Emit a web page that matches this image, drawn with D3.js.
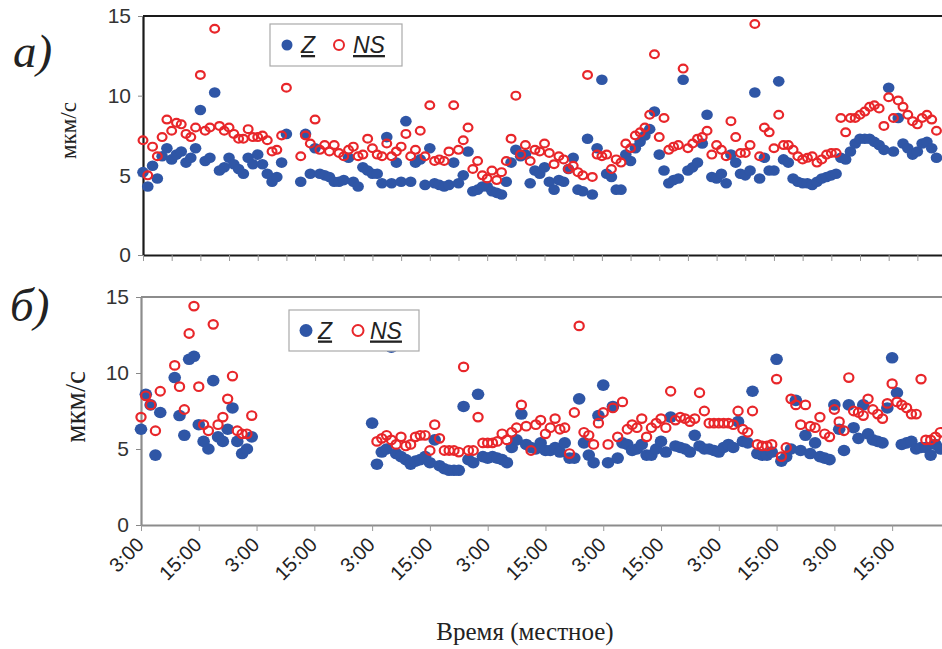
<!DOCTYPE html>
<html><head><meta charset="utf-8">
<script src="https://cdn.jsdelivr.net/npm/d3@7"></script>
<style>body{margin:0;background:#fff} svg{display:block}</style>
</head><body>
<script>
// ---- DATA (hourly values, hour 0 = 3:00 local on the first day) ----
const hourSpan = 168;
const yTickValues = [0, 5, 10, 15];
const tickLabels = ["3:00","15:00","3:00","15:00","3:00","15:00","3:00","15:00","3:00","15:00","3:00","15:00","3:00","15:00"];
const seriesNames = ["Z", "NS"];
const panelLabels = ["а)", "б)"];
const yTitle = "мкм/с";
const xTitle = "Время (местное)";

// panel a) — Z
const topZ = [5.2,4.3,5.6,4.8,6.2,6.7,6.0,6.3,6.5,5.8, 6.1,6.7,9.1,5.9,6.1,10.2,5.3,5.5,6.1,5.7,
  5.4,5.1,6.1,5.7,6.3,5.7,5.1,4.6,4.9,5.8, 7.6,null,null,4.6,7.6,5.1,6.7,5.1,5.0,4.9,
  4.6,4.6,4.7,6.1,4.6,4.3,5.5,5.3,5.1,5.1, 4.5,7.4,4.5,5.8,4.6,8.4,
  4.6,5.8,6.0,4.4,6.7,4.5,4.4,4.3,4.4,5.8, 4.5,5.0,6.5,4.0,4.1,4.3,4.3,4.0,3.9,3.8,
  4.6,5.8,6.6,6.2,6.3,4.5,5.3,5.1,5.5,4.6, 4.1,4.7,4.6,5.4,6.1,4.1,4.0,7.3,3.8,6.7,
  11.0,5.1,4.9,4.1,4.1,6.3,5.9,6.7,7.1,7.5, 7.9,9.0,6.3,5.3,4.5,
  4.7,4.8,11.0,5.3,5.5,5.8,7.0,8.8,4.9,4.8, 5.1,4.5,6.3,5.8,5.1,5.0,5.3,10.2,4.8,6.1,
  5.3,5.3,10.9,6.0,5.8,4.8,4.6,4.5,4.5,4.4, 4.6,4.8,4.9,5.0,5.1,6.1,6.0,6.5,7.0,7.3,
  7.3,7.3,7.1,6.9,6.6,10.5,6.5,8.6,7.0,6.7, 6.3,6.5,7.0,7.1,6.7,6.1];
// panel a) — NS
const topNS = [7.2,5.0,6.8,6.2,7.4,8.5,7.8,8.3,8.2,7.6, 7.4,8.0,11.3,7.8,8.0,14.2,8.1,7.8,8.0,7.6,
  7.3,7.3,7.9,7.4,7.4,7.5,7.2,6.5,6.6,7.5, 10.5,null,null,6.2,7.5,7.0,8.5,6.6,6.9,6.5,
  6.9,6.4,6.2,6.6,6.8,6.2,6.3,7.3,6.7,6.3, 6.2,7.0,6.2,6.5,6.8,7.6,
  6.2,6.6,7.8,6.2,9.4,5.9,6.0,5.9,6.5,9.4, 6.6,7.2,8.0,5.4,5.9,5.0,4.8,5.3,4.7,5.2,
  5.9,7.3,10.0,6.3,6.9,5.9,6.6,6.5,7.0,6.4, 5.7,6.2,6.0,5.4,5.6,5.2,5.0,11.3,4.9,6.3,
  6.2,6.3,5.4,6.0,5.8,7.0,6.7,7.5,7.7,8.0, 8.8,12.6,7.4,8.6,6.6,
  6.8,6.9,11.7,6.7,7.0,7.3,7.4,7.8,6.3,6.9, 6.6,6.2,8.4,7.4,6.4,6.4,6.9,14.5,6.2,8.0,
  7.7,6.7,8.8,6.9,6.9,6.6,6.2,6.0,6.1,6.2, 5.8,6.0,6.3,6.4,6.4,8.6,7.7,8.6,8.6,8.8,
  9.0,9.3,9.4,9.2,8.1,9.9,8.6,9.7,9.3,8.8, 8.4,8.2,8.6,8.8,8.5,7.8];
// panel б) — Z
const botZ = [6.3,8.6,7.9,4.6,7.4,null,null,9.7,7.2,5.9, 10.9,11.1,6.6,5.5,5.0,9.5,5.8,5.5,6.3,7.7,
  5.5,4.7,5.0,5.8,
  null,null,null,null,null,null,null,null,null,null,null,null,
  null,null,null,null,null,null,null,null,null,null,null,null,
  6.7,4.0,4.8,5.0,11.7,4.7,4.5,4.3,4.0,4.2, 4.3,4.5,4.1,5.6,3.9,3.7,3.6,3.6,3.6,7.8,
  4.3,4.1,8.6,4.5,4.4,4.5,4.4,4.3,4.1,5.1, 5.6,7.3,5.3,5.1,
  5.0,5.4,4.9,4.9,5.1,4.8,5.4,4.4,4.4,8.3, 5.4,4.6,4.1,7.2,9.2,4.1,7.8,4.4,5.4,5.3,
  4.9,5.0,5.3,4.6,4.6,5.0,5.5,4.8,7.1,5.2, 5.1,5.0,4.8,5.9,5.2,5.0,5.0,4.9,4.8,5.1,
  5.3,5.1,6.8,5.5,5.4,8.8,4.7,4.6,4.6,4.8, 10.9,4.2,4.5,5.0,8.2,4.9,5.9,4.7,5.4,4.5,
  4.4,4.3,7.9,6.3,4.9,7.9,6.4,5.7,7.9,6.0, 5.6,5.5,5.4,7.7,11.0,8.7,5.3,5.4,5.5,5.0,
  5.1,5.1,4.6,5.3,5.0];
// panel б) — NS
const botNS = [7.1,8.5,7.9,6.2,8.8,null,null,10.5,9.1,7.6, 12.6,14.4,9.1,6.6,6.2,13.2,6.6,7.1,8.3,9.8,
  6.2,6.0,6.0,7.2,
  null,null,null,null,null,null,null,null,null,null,null,null,
  null,null,null,null,null,null,null,null,null,null,null,null,null,
  5.5,5.7,5.9,5.6,5.3,5.8,5.2,5.3,5.8,5.9, 5.9,4.9,6.6,5.7,4.9,4.9,4.9,4.8,10.4,4.9,
  4.9,7.1,5.4,5.4,5.4,5.5,6.0,5.6,6.1,6.4, 7.9,6.5,4.9,6.6,
  6.9,6.0,6.4,7.0,6.3,6.4,4.7,7.4,13.1,6.1, 5.9,5.3,6.7,7.4,5.3,7.7,5.8,8.1,6.3,6.6,
  6.4,7.0,5.8,6.4,6.7,7.0,6.4,8.8,6.9,7.1, 7.0,6.8,7.0,8.7,7.5,6.7,6.7,6.7,6.7,6.7,
  6.6,7.5,6.3,6.1,7.5,5.3,5.2,5.2,5.3,9.6, 4.5,5.1,8.3,7.9,6.6,7.9,6.5,6.4,7.1,6.0,
  5.8,7.6,6.8,6.2,9.7,7.5,7.4,7.2,8.3,7.6, 7.3,7.0,8.0,9.3,8.1,7.9,7.7,7.3,7.3,9.6,
  5.6,5.6,5.8,6.1];

// ---- DRAWING ----
const W = 942, H = 649;
const sans = "'Liberation Sans', Arial, sans-serif";
const serif = "'Liberation Serif', 'Times New Roman', serif";
const blue = "#2f56a6", red = "#e8262a";

const svg = d3.select("body").append("svg").attr("width", W).attr("height", H)
  .style("background", "#fff");

function drawPanel(cfg) {
  const g = svg.append("g");
  const x = d3.scaleLinear().domain([0, hourSpan]).range([cfg.x0, cfg.x0 + hourSpan * cfg.pph]);
  const y = d3.scaleLinear().domain([0, 15]).range([cfg.yb, cfg.yt]);

  // top border
  g.append("line").attr("x1", cfg.x0).attr("x2", W).attr("y1", cfg.yt).attr("y2", cfg.yt)
    .attr("stroke", cfg.frame).attr("stroke-width", cfg.frameW);

  // y axis
  const ya = g.append("g").attr("transform", `translate(${cfg.x0},0)`)
    .call(d3.axisLeft(y).tickValues(yTickValues).tickSize(5).tickSizeOuter(0).tickPadding(7));
  ya.select(".domain").attr("stroke", cfg.frame).attr("stroke-width", cfg.frameW);
  ya.selectAll(".tick line").attr("stroke", "#888").attr("stroke-width", 1);
  ya.selectAll(".tick text").attr("font-family", sans).attr("font-size", 21).attr("fill", "#333");

  // x axis
  const xa = g.append("g").attr("transform", `translate(0,${cfg.yb})`)
    .call(d3.axisBottom(x).tickValues(d3.range(0, hourSpan, cfg.tickStep)).tickSize(6).tickSizeOuter(0).tickFormat(""));
  xa.select(".domain").attr("stroke", cfg.frame).attr("stroke-width", cfg.frameW);
  xa.selectAll(".tick line").attr("stroke", "#999").attr("stroke-width", 1);

  // points
  const zPts = cfg.z.map((v, i) => ({h: i, v})).filter(d => d.v != null);
  const nsPts = cfg.ns.map((v, i) => ({h: i, v})).filter(d => d.v != null);
  g.append("g").selectAll("ellipse").data(zPts).join("ellipse")
    .attr("cx", d => x(d.h)).attr("cy", d => y(d.v))
    .attr("rx", cfg.zr[0]).attr("ry", cfg.zr[1]).attr("fill", blue);
  g.append("g").selectAll("ellipse").data(nsPts).join("ellipse")
    .attr("cx", d => x(d.h)).attr("cy", d => y(d.v))
    .attr("rx", cfg.nsr[0]).attr("ry", cfg.nsr[1]).attr("fill", "none")
    .attr("stroke", red).attr("stroke-width", 2.2);

  // legend
  const L = cfg.legend;
  const lg = g.append("g").attr("transform", `translate(${L.x},${L.y})`);
  lg.append("rect").attr("width", L.w).attr("height", L.h).attr("fill", "#fff")
    .attr("stroke", "#aaa").attr("stroke-width", 1.2);
  lg.append("circle").attr("cx", L.dot).attr("cy", L.h / 2).attr("r", L.dotR).attr("fill", blue);
  lg.append("text").attr("x", L.zx).attr("y", L.h / 2 + 8).text(seriesNames[0])
    .attr("font-family", sans).attr("font-style", "italic").attr("font-size", 23)
    .attr("fill", "#222").style("text-decoration", "underline");
  lg.append("circle").attr("cx", L.ring).attr("cy", L.h / 2).attr("r", L.ringR)
    .attr("fill", "none").attr("stroke", red).attr("stroke-width", 2);
  lg.append("text").attr("x", L.nsx).attr("y", L.h / 2 + 8).text(seriesNames[1])
    .attr("font-family", sans).attr("font-style", "italic").attr("font-size", 23)
    .attr("fill", "#222").style("text-decoration", "underline");

  // panel label and y title
  svg.append("text").attr("x", cfg.lab[0]).attr("y", cfg.lab[1]).text(cfg.label)
    .attr("font-family", serif).attr("font-style", "italic").attr("font-size", 47).attr("fill", "#222");
  svg.append("text").attr("transform", `translate(${cfg.yTitle[0]},${(cfg.yt + cfg.yb) / 2 + cfg.yTitle[2]}) rotate(-90)`)
    .attr("text-anchor", "middle").text(yTitle)
    .attr("font-family", serif).attr("font-size", cfg.yTitle[1]).attr("fill", "#222");
  return x;
}

drawPanel({
  x0: 143, pph: 4.78, yt: 16, yb: 255, frame: "#1a1a1a", frameW: 2.2, tickStep: 6,
  z: topZ, ns: topNS, zr: [5.8, 5.3], nsr: [4.4, 3.9],
  legend: {x: 270, y: 24, w: 132, h: 42, dot: 17, dotR: 5.5, zx: 31, ring: 69, ringR: 5, nsx: 83},
  label: panelLabels[0], lab: [13, 67], yTitle: [76, 23, -5]
});
const xb = drawPanel({
  x0: 141, pph: 4.815, yt: 297, yb: 525, frame: "#8c8c8c", frameW: 2.2, tickStep: 12,
  z: botZ, ns: botNS, zr: [6.3, 5.8], nsr: [4.6, 4.3],
  legend: {x: 289, y: 310, w: 130, h: 41, dot: 17, dotR: 6.5, zx: 29, ring: 69, ringR: 5.5, nsx: 81},
  label: panelLabels[1], lab: [10, 321], yTitle: [85, 29, -4]
});

// x tick labels
svg.append("g").selectAll("text").data(tickLabels).join("text")
  .attr("transform", (d, i) => `translate(${xb(i * 12) + 4},546) rotate(-45)`)
  .attr("text-anchor", "end").text(d => d)
  .attr("font-family", sans).attr("font-size", 20).attr("fill", "#222");

svg.append("text").attr("x", 525).attr("y", 640).attr("text-anchor", "middle").text(xTitle)
  .attr("font-family", serif).attr("font-size", 25).attr("fill", "#222");
</script>
</body></html>
